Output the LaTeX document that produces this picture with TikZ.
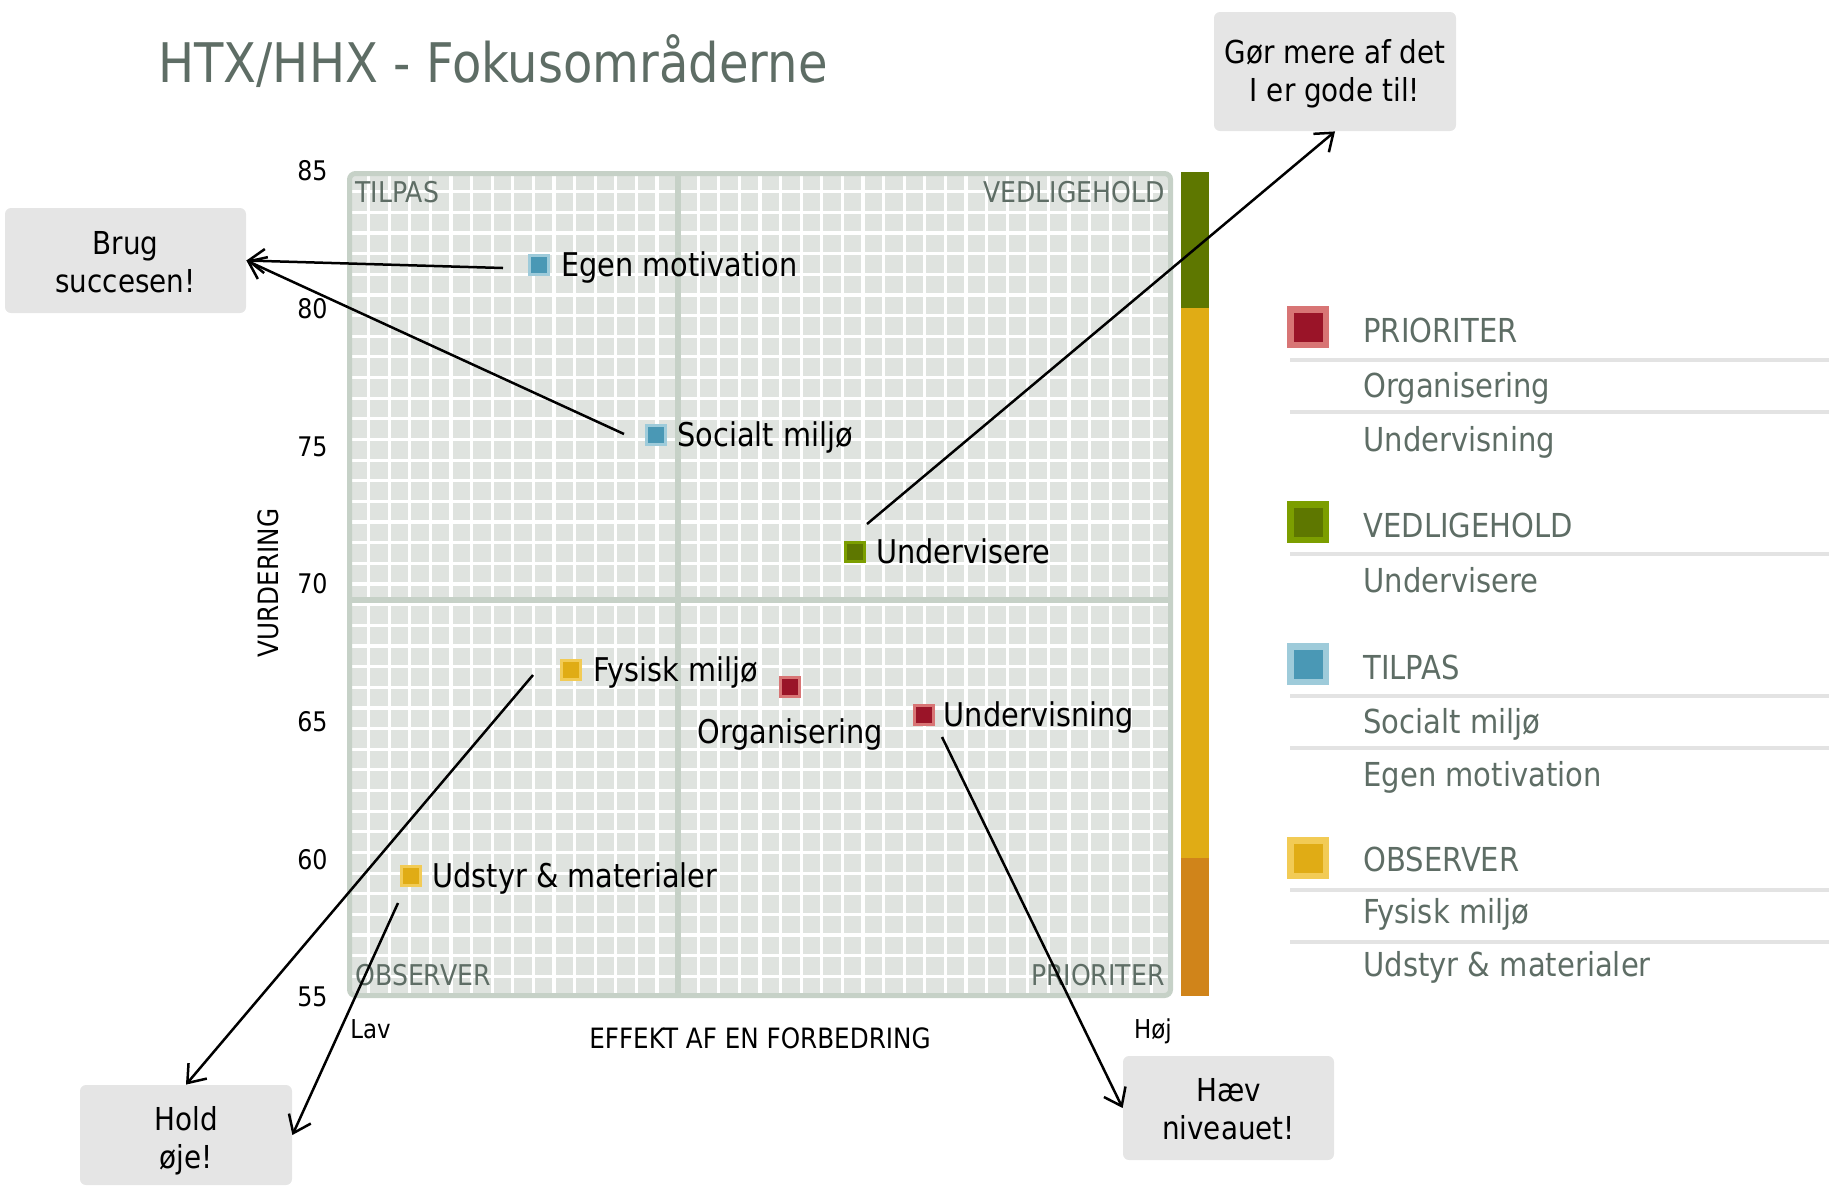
\documentclass[tikz,border=0pt]{standalone}
\usepackage{fontspec}
\setmainfont[FakeStretch=0.88]{DejaVu Sans}
\usetikzlibrary{arrows.meta,positioning}
\definecolor{txtgray}{HTML}{5E6D65}
\definecolor{framefill}{HTML}{DFE3DF}
\definecolor{frameline}{HTML}{C6D1C7}
\definecolor{boxfill}{HTML}{E5E5E5}
\definecolor{sepgray}{HTML}{E3E3E3}
\definecolor{blueD}{HTML}{4A98B5}
\definecolor{blueL}{HTML}{9ECBDA}
\definecolor{redD}{HTML}{9A1428}
\definecolor{redL}{HTML}{D87575}
\definecolor{greenD}{HTML}{5E7700}
\definecolor{greenL}{HTML}{7C9E00}
\definecolor{yelD}{HTML}{E0AC15}
\definecolor{yelL}{HTML}{F2CB55}
\definecolor{orangeD}{HTML}{D0841A}
\begin{document}
\begin{tikzpicture}[x=0.5pt,y=-0.5pt,
  mk/.style={rectangle, inner sep=0pt, minimum size=9.5pt, line width=1.5pt},
  legsq/.style={rectangle, inner sep=0pt, minimum size=17.75pt, line width=3.25pt},
  lbl/.style={font=\fontsize{16.35pt}{19.5pt}\selectfont, inner sep=0pt, text height=11.9pt, text depth=0pt},
  quad/.style={font=\fontsize{14.3pt}{17pt}\selectfont, text=txtgray, inner sep=0pt, text height=10.4pt, text depth=0pt},
  tick/.style={font=\fontsize{13.5pt}{16pt}\selectfont, inner sep=0pt, text height=9.8pt, text depth=0pt, anchor=east},
  axl/.style={font=\fontsize{14pt}{16pt}\selectfont, inner sep=0pt, text height=10.2pt, text depth=0pt},
  endl/.style={font=\fontsize{13pt}{15pt}\selectfont, inner sep=0pt, text height=9.5pt, text depth=0pt},
  leg/.style={font=\fontsize{16.5pt}{19pt}\selectfont, text=txtgray, inner sep=0pt, text height=12pt, text depth=0pt, anchor=west},
  callout/.style={fill=boxfill, rounded corners=3pt, inner sep=0pt},
  ctext/.style={align=center, inner sep=0pt, font=\fontsize{15.8pt}{19.2pt}\selectfont},
  sepline/.style={draw=sepgray, line width=2pt},
  arr/.style={draw=black, line width=1.25pt, -{Straight Barb[length=8pt,width=12pt,line width=1.25pt]}}
]
\useasboundingbox (0,0) rectangle (1829,1185);

% title
\node[font=\fontsize{27.3pt}{32pt}\selectfont, text=txtgray, inner sep=0pt, anchor=base west] (title) at (158,82) {HTX/HHX - Fokusområderne};

% plot frame and grid
\fill[framefill, rounded corners=3pt] (349.5,173.5) rectangle (1170.5,995.5);
\foreach \i in {1,...,39}{
  \draw[white, line width=1.6pt] (348+\i*20.6,173.5) -- (348+\i*20.6,995.5);
  \draw[white, line width=1.6pt] (349.5,171+\i*20.65) -- (1170.5,171+\i*20.65);
}
\draw[frameline, line width=2.5pt, rounded corners=3pt] (349.5,173.5) rectangle (1170.5,995.5);
\draw[frameline, line width=3pt] (678,173.5) -- (678,995.5);
\draw[frameline, line width=3pt] (349.5,600) -- (1170.5,600);

% quadrant labels
\node[quad, anchor=west] (qtl) at (355,192) {TILPAS};
\node[quad, anchor=east] (qtr) at (1165,192) {VEDLIGEHOLD};
\node[quad, anchor=west] (qbl) at (355,975) {OBSERVER};
\node[quad, anchor=east] (qbr) at (1165,975) {PRIORITER};

% colour bar
\fill[greenD] (1181,172) rectangle (1209,308);
\fill[yelD] (1181,308) rectangle (1209,858);
\fill[orangeD] (1181,858) rectangle (1209,996);

% y ticks
\foreach \v in {85,80,75,70,65,60,55}{
  \node[tick] (t\v) at (328,{171+(85-\v)*27.53}) {\v};
}
\node[axl, rotate=90] (ylab) at (268,583) {VURDERING};
\node[axl, anchor=center] (xlab) at (760,1038) {EFFEKT AF EN FORBEDRING};
\node[endl, anchor=west] (lav) at (350,1029) {Lav};
\node[endl, anchor=east] (hoj) at (1172,1029) {Høj};

% data points
\node[mk, draw=blueL, fill=blueD] (em) at (539,265) {};
\node[lbl, right=5.5pt of em] (emL) {Egen motivation};
\node[mk, draw=blueL, fill=blueD] (sm) at (656,435) {};
\node[lbl, right=5pt of sm] (smL) {Socialt miljø};
\node[mk, draw=greenL, fill=greenD] (ui) at (855,552) {};
\node[lbl, right=5pt of ui] (uiL) {Undervisere};
\node[mk, draw=yelL, fill=yelD] (fm) at (571,670) {};
\node[lbl, right=5.5pt of fm] (fmL) {Fysisk miljø};
\node[mk, draw=redL, fill=redD] (org) at (790,686.5) {};
\node[lbl, below=11pt of org] (orgL) {Organisering};
\node[mk, draw=redL, fill=redD] (un) at (923.5,715) {};
\node[lbl, right=4.5pt of un] (unL) {Undervisning};
\node[mk, draw=yelL, fill=yelD] (ud) at (411,876) {};
\node[lbl, right=5pt of ud] (udL) {Udstyr \& materialer};

% callout boxes
\node[callout, minimum width=120.5pt, minimum height=52.5pt] (brug) at (125.5,260.5) {};
\node[ctext] (brugT) at (125.5,262) {Brug\\succesen!};
\node[callout, minimum width=121pt, minimum height=59.5pt] (gor) at (1335,71.5) {};
\node[ctext] (gorT) at (1335,74) {Gør mere af det\\I er gode til!};
\node[callout, minimum width=106pt, minimum height=50pt] (hold) at (186,1135) {};
\node[ctext] (holdT) at (186,1141) {Hold\\øje!};
\node[callout, minimum width=105.5pt, minimum height=52pt] (hav) at (1228.5,1108) {};
\node[ctext] (havT) at (1228.5,1109) {Hæv\\niveauet!};

% arrow start points
\coordinate (a1) at (503,268);
\coordinate (a2) at (624,434);
\coordinate (a3) at (867,524);
\coordinate (a4) at (533,675);
\coordinate (a5) at (398,903);
\coordinate (a6) at (942,737);
\draw[arr] (a1) -- (brug.east);
\draw[arr] (a2) -- (brug.east);
\draw[arr] (a3) -- (gor.south);
\draw[arr] (a4) -- (hold.north);
\draw[arr] (a5) -- (hold.east);
\draw[arr] (a6) -- (hav.west);

% legend
\node[legsq, draw=redL, fill=redD] (lp) at (1308,327) {};
\node[leg] (lpT) at (1363,330.5) {PRIORITER};
\draw[sepline] (1290,360) -- (1829,360);
\node[leg] (lp1) at (1363,385) {Organisering};
\draw[sepline] (1290,411.5) -- (1829,411.5);
\node[leg] (lp2) at (1363,439) {Undervisning};

\node[legsq, draw=greenL, fill=greenD] (lv) at (1308,522) {};
\node[leg] (lvT) at (1363,525) {VEDLIGEHOLD};
\draw[sepline] (1290,554) -- (1829,554);
\node[leg] (lv1) at (1363,580.5) {Undervisere};

\node[legsq, draw=blueL, fill=blueD] (lt) at (1308,664) {};
\node[leg] (ltT) at (1363,667) {TILPAS};
\draw[sepline] (1290,696) -- (1829,696);
\node[leg] (lt1) at (1363,721) {Socialt miljø};
\draw[sepline] (1290,748) -- (1829,748);
\node[leg] (lt2) at (1363,774) {Egen motivation};

\node[legsq, draw=yelL, fill=yelD] (lo) at (1308,858) {};
\node[leg] (loT) at (1363,859) {OBSERVER};
\draw[sepline] (1290,890) -- (1829,890);
\node[leg] (lo1) at (1363,911.5) {Fysisk miljø};
\draw[sepline] (1290,942) -- (1829,942);
\node[leg] (lo2) at (1363,964.5) {Udstyr \& materialer};
\end{tikzpicture}
\end{document}
